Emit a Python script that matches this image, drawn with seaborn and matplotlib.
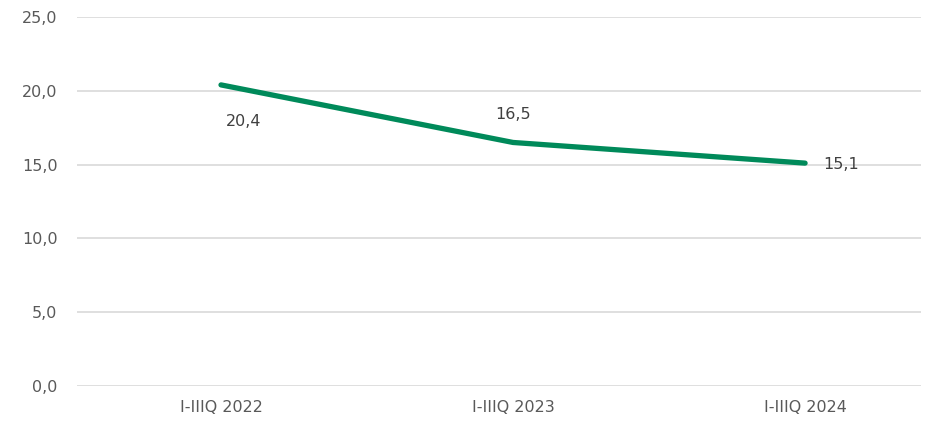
import matplotlib
matplotlib.use('Agg')
import matplotlib.pyplot as plt
import seaborn as sns
import pandas as pd

periods = ['I-IIIQ 2022', 'I-IIIQ 2023', 'I-IIIQ 2024']
values = [20.4, 16.5, 15.1]
yticks = [0, 5, 10, 15, 20, 25]

sns.set_theme(style='white')
plt.rcParams['font.family'] = ['DejaVu Sans']

df = pd.DataFrame({'period': periods, 'value': values})
df['x'] = range(len(df))

fig = plt.figure(figsize=(9.36, 4.22), dpi=100)
ax = fig.add_axes([0.0823, 0.0853, 0.9017, 0.8744])

sns.lineplot(data=df, x='x', y='value', ax=ax, color='#008a5a', linewidth=3.8,
             solid_capstyle='round', zorder=3)

# label offsets in points (dx, dy)
offsets = [(16, -26), (0, 20), (26, -1)]
for (xi, v), (dx, dy) in zip(zip(df['x'], df['value']), offsets):
    ax.annotate(f'{v:.1f}'.replace('.', ','), (xi, v), xytext=(dx, dy),
                textcoords='offset points', ha='center', va='center',
                fontsize=11.5, color='#404040')

ax.set_ylim(0, 25)
ax.set_xlim(-0.493, 2.397)
ax.set_yticks(yticks)
ax.set_yticklabels([f'{t:.1f}'.replace('.', ',') for t in yticks])
ax.set_xticks(df['x'])
ax.set_xticklabels(periods)
ax.grid(axis='y', color='#d9d9d9', linewidth=1.2)
ax.set_axisbelow(True)
for s in ax.spines.values():
    s.set_visible(False)
ax.tick_params(axis='both', length=0, labelsize=11.5, labelcolor='#595959')
ax.tick_params(axis='y', pad=14)
ax.tick_params(axis='x', pad=10)
ax.set_xlabel('')
ax.set_ylabel('')

fig.savefig('out.png', dpi=100)
